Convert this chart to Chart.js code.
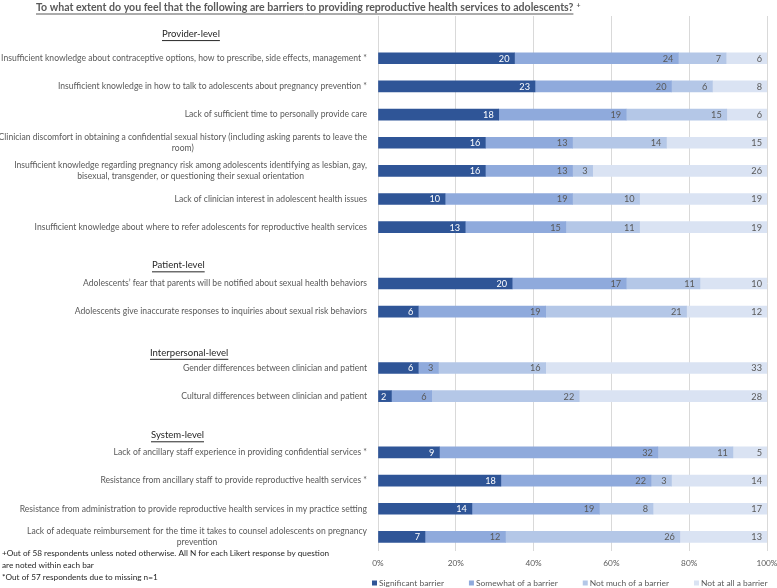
<!DOCTYPE html>
<html>
<head>
<meta charset="utf-8">
<script src="https://cdn.jsdelivr.net/npm/chart.js@4.4.1/dist/chart.umd.min.js"></script>
<style>
  html, body { margin: 0; padding: 0; background: #fff; }
  #wrap { width: 777px; height: 588px; }
</style>
</head>
<body>
<div id="wrap"><canvas id="barrierChart" width="777" height="588"></canvas></div>
<script>
// rows of the chart, '' = empty slot used for a section heading
const rowLabels = [
    '',
    'Insufficient knowledge about contraceptive options, how to prescribe, side effects, management *',
    'Insufficient knowledge in how to talk to adolescents about pregnancy prevention *',
    'Lack of sufficient time to personally provide care',
    ['Clinician discomfort in obtaining a confidential sexual history (including asking parents to leave the', 'room)'],
    ['Insufficient knowledge regarding pregnancy risk among adolescents identifying as lesbian, gay,', 'bisexual, transgender, or questioning their sexual orientation'],
    'Lack of clinician interest in adolescent health issues',
    'Insufficient knowledge about where to refer adolescents for reproductive health services',
    '',
    'Adolescents\u2019 fear that parents will be notified about sexual health behaviors',
    'Adolescents give inaccurate responses to inquiries about sexual risk behaviors',
    '',
    'Gender differences between clinician and patient',
    'Cultural differences between clinician and patient',
    '',
    'Lack of ancillary staff experience in providing confidential services *',
    'Resistance from ancillary staff to provide reproductive health services *',
    'Resistance from administration to provide reproductive health services in my practice setting',
    ['Lack of adequate reimbursement for the time it takes to counsel adolescents on pregnancy', 'prevention']
];

const sectionHeaders = ['Provider-level', 'Patient-level', 'Interpersonal-level', 'System-level'];
const sectionSlots = [0, 8, 11, 14];

const seriesNames = ['Significant barrier', 'Somewhat of a barrier', 'Not much of a barrier', 'Not at all a barrier'];
const significant = [null, 20, 23, 18, 16, 16, 10, 13, null, 20, 6, null, 6, 2, null, 9, 18, 14, 7];
const somewhat    = [null, 24, 20, 19, 13, 13, 19, 15, null, 17, 19, null, 3, 6, null, 32, 22, 19, 12];
const notMuch     = [null, 7, 6, 15, 14, 3, 10, 11, null, 11, 21, null, 16, 22, null, 11, 3, 8, 26];
const notAtAll    = [null, 6, 8, 6, 15, 26, 19, 19, null, 10, 12, null, 33, 28, null, 5, 14, 17, 13];

const xTicks = [0, 20, 40, 60, 80, 100];

const chartTitle = 'To what extent do you feel that the following are barriers to providing reproductive health services to adolescents?';
const footnotes = [
    '+Out of 58 respondents unless noted otherwise. All N for each Likert response by question',
    'are noted within each bar',
    '*Out of 57 respondents due to missing n=1'
];

const FONT = "Lato, 'Open Sans', sans-serif";
const GREY = '#595959';
const colors = ['#2F5597', '#8FAADC', '#B4C7E7', '#DAE3F3'];

const counts = [significant, somewhat, notMuch, notAtAll];
const totals = rowLabels.map((l, i) => counts.reduce((s, arr) => s + (arr[i] || 0), 0));
const toPct = arr => arr.map((v, i) => v === null ? null : v / totals[i] * 100);

// font size that makes a text as wide as in the original picture
const measureCtx = document.createElement('canvas').getContext('2d');
function fitSize(text, width, weight) {
    measureCtx.font = (weight || '') + ' 20px ' + FONT;
    return 20 * width / measureCtx.measureText(text).width;
}

const labelSize = fitSize(rowLabels[1], 366);
const titleSize = fitSize(chartTitle, 538, 'bold');
const noteSize = fitSize(footnotes[0], 328);
const legendSize = fitSize(seriesNames[0], 65);
const headSize = fitSize(sectionHeaders[0], 58);
const tickSize = fitSize('100%', 21);

// draws title, headings, row labels, counts, notes and legend
const annotations = {
    id: 'annotations',
    afterDraw(chart) {
        const ctx = chart.ctx;
        const yScale = chart.scales.y;
        ctx.save();

        // title
        ctx.font = 'bold ' + titleSize + 'px ' + FONT;
        ctx.fillStyle = GREY;
        ctx.textAlign = 'left';
        ctx.textBaseline = 'middle';
        const tw = ctx.measureText(chartTitle).width;
        ctx.fillText(chartTitle, 36, 7.5);
        ctx.font = 'bold 7px ' + FONT;
        ctx.fillText('+', 36 + tw + 3, 5.5);
        ctx.strokeStyle = GREY;
        ctx.lineWidth = 1;
        ctx.beginPath();
        ctx.moveTo(36, 14);
        ctx.lineTo(36 + tw, 14);
        ctx.stroke();

        // section headings
        const headX = [162, 152, 150, 151];
        const headDy = [4, 10, 13, 11];
        ctx.font = headSize + 'px ' + FONT;
        ctx.fillStyle = '#262626';
        ctx.strokeStyle = '#262626';
        sectionHeaders.forEach((h, k) => {
            const y = yScale.getPixelForValue(sectionSlots[k]) + headDy[k];
            ctx.fillText(h, headX[k], y);
            const w = ctx.measureText(h).width;
            ctx.beginPath();
            ctx.moveTo(headX[k], y + 6.5);
            ctx.lineTo(headX[k] + w, y + 6.5);
            ctx.stroke();
        });

        // row labels, right aligned block, lines centred within it
        ctx.font = labelSize + 'px ' + FONT;
        ctx.fillStyle = GREY;
        ctx.textAlign = 'center';
        rowLabels.forEach((label, i) => {
            if (!label) return;
            const lines = Array.isArray(label) ? label : [label];
            const blockW = Math.max(...lines.map(t => ctx.measureText(t).width));
            const cx = 367 - blockW / 2;
            const yc = yScale.getPixelForValue(i);
            lines.forEach((t, j) => {
                ctx.fillText(t, cx, yc + (j - (lines.length - 1) / 2) * 11.6);
            });
        });

        // counts at the end of each segment
        ctx.textAlign = 'right';
        ctx.font = (labelSize + 0.6) + 'px ' + FONT;
        chart.data.datasets.forEach((ds, d) => {
            const meta = chart.getDatasetMeta(d);
            meta.data.forEach((bar, i) => {
                const n = counts[d][i];
                if (n === null) return;
                ctx.fillStyle = d === 0 ? '#ffffff' : GREY;
                ctx.fillText(String(n), bar.x - 5, bar.y + 0.5);
            });
        });

        // notes
        ctx.textAlign = 'left';
        ctx.fillStyle = '#262626';
        ctx.font = noteSize + 'px ' + FONT;
        footnotes.forEach((t, j) => ctx.fillText(t, 2, 553 + j * 12.3));

        // legend
        ctx.font = legendSize + 'px ' + FONT;
        let lx = 372;
        chart.data.datasets.forEach((ds) => {
            ctx.fillStyle = ds.backgroundColor;
            ctx.fillRect(lx, 580.5, 5, 5);
            ctx.fillStyle = GREY;
            ctx.fillText(ds.label, lx + 7, 583);
            lx += 7 + ctx.measureText(ds.label).width + 25;
        });

        ctx.restore();
    }
};

const chart = new Chart(document.getElementById('barrierChart'), {
    type: 'bar',
    data: {
        labels: rowLabels,
        datasets: seriesNames.map((name, d) => ({
            label: name,
            data: toPct(counts[d]),
            backgroundColor: colors[d],
            borderWidth: 0,
            barThickness: 11
        }))
    },
    options: {
        indexAxis: 'y',
        responsive: false,
        animation: false,
        devicePixelRatio: 1,
        layout: { padding: { top: 16, right: 10, left: 0, bottom: 0 } },
        scales: {
            x: {
                stacked: true,
                min: 0,
                max: 100,
                afterBuildTicks: scale => { scale.ticks = xTicks.map(v => ({ value: v })); },
                afterFit: scale => {
                    scale.height = 37;
                    scale.paddingRight = 0;
                    scale.paddingLeft = 0;
                },
                ticks: {
                    callback: v => v + '%',
                    color: GREY,
                    padding: 7,
                    maxRotation: 0,
                    font: { family: FONT, size: tickSize }
                },
                grid: { color: '#d9d9d9', drawTicks: false },
                border: { display: false }
            },
            y: {
                stacked: true,
                afterFit: scale => { scale.width = 378; },
                ticks: { display: false },
                grid: { display: false },
                border: { display: false }
            }
        },
        plugins: {
            legend: { display: false },
            tooltip: { enabled: false }
        }
    },
    plugins: [annotations]
});
</script>
</body>
</html>
